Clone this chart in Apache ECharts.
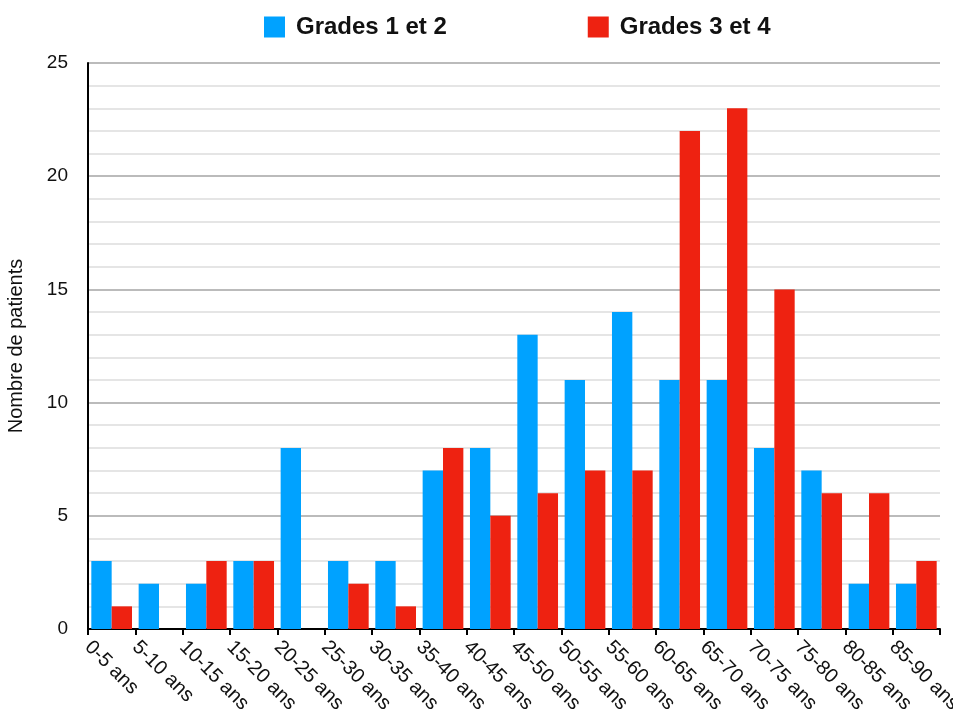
<!DOCTYPE html>
<html>
<head>
<meta charset="utf-8">
<script src="https://cdn.jsdelivr.net/npm/echarts@6/dist/echarts.min.js"></script>
<style>
  html, body { margin: 0; padding: 0; background: #fff; }
  #chart { width: 953px; height: 722px; }
</style>
</head>
<body>
<div id="chart"></div>
<script>
var categories = ['0-5 ans', '5-10 ans', '10-15 ans', '15-20 ans', '20-25 ans', '25-30 ans',
  '30-35 ans', '35-40 ans', '40-45 ans', '45-50 ans', '50-55 ans', '55-60 ans',
  '60-65 ans', '65-70 ans', '70-75 ans', '75-80 ans', '80-85 ans', '85-90 ans'];
var grades12 = [3, 2, 2, 3, 8, 3, 3, 7, 8, 13, 11, 14, 11, 11, 8, 7, 2, 2];
var grades34 = [1, 0, 3, 3, 0, 2, 1, 8, 5, 6, 7, 7, 22, 23, 15, 6, 6, 3];

// labels sit on the boundary ticks, so a second axis without boundary gap carries them
var tickLabels = categories.concat(['']);

var myChart = echarts.init(document.getElementById('chart'));

var font = 'Liberation Sans, Arial, sans-serif';

option = {
    animation: false,
    textStyle: { fontFamily: font },
    legend: {
        top: 10,
        left: 259,
        itemWidth: 21,
        itemHeight: 21,
        itemGap: 141,
        icon: 'rect',
        textStyle: {
            fontSize: 24,
            fontWeight: 'bold',
            color: '#111',
            fontFamily: font,
            padding: [0, 0, 0, 6]
        },
        data: ['Grades 1 et 2', 'Grades 3 et 4']
    },
    grid: {
        left: 88,
        right: 13,
        top: 63,
        bottom: 93,
        outerBoundsMode: 'none'
    },
    xAxis: [{
        type: 'category',
        data: categories,
        boundaryGap: true,
        axisLine: { lineStyle: { color: '#000', width: 2 } },
        axisTick: { show: true, interval: 0, length: 6, lineStyle: { color: '#000', width: 2 } },
        axisLabel: { show: false }
    }, {
        type: 'category',
        data: tickLabels,
        boundaryGap: false,
        position: 'bottom',
        axisLine: { show: false },
        axisTick: { show: false },
        axisLabel: {
            interval: 0,
            rotate: -45,
            margin: 15,
            fontSize: 20,
            color: '#111',
            fontFamily: font
        }
    }],
    yAxis: {
        type: 'value',
        min: 0,
        max: 25,
        interval: 5,
        name: 'Nombre de patients',
        nameLocation: 'middle',
        nameGap: 62,
        nameTextStyle: { fontSize: 20, color: '#111', fontFamily: font },
        axisLine: { show: true, lineStyle: { color: '#000', width: 2 } },
        axisTick: { show: false },
        axisLabel: { fontSize: 19, color: '#111', margin: 20, fontFamily: font },
        splitLine: { lineStyle: { color: '#bbbbbb', width: 2 } },
        minorTick: { show: false, splitNumber: 5 },
        minorSplitLine: { show: true, lineStyle: { color: '#dddddd', width: 1.5 } }
    },
    series: [{
        name: 'Grades 1 et 2',
        type: 'bar',
        xAxisIndex: 0,
        color: '#00a2ff',
        barGap: '0%',
        barCategoryGap: '14%',
        data: grades12
    }, {
        name: 'Grades 3 et 4',
        type: 'bar',
        xAxisIndex: 0,
        color: '#ee2211',
        data: grades34
    }]
};
myChart.setOption(option);
</script>
</body>
</html>
